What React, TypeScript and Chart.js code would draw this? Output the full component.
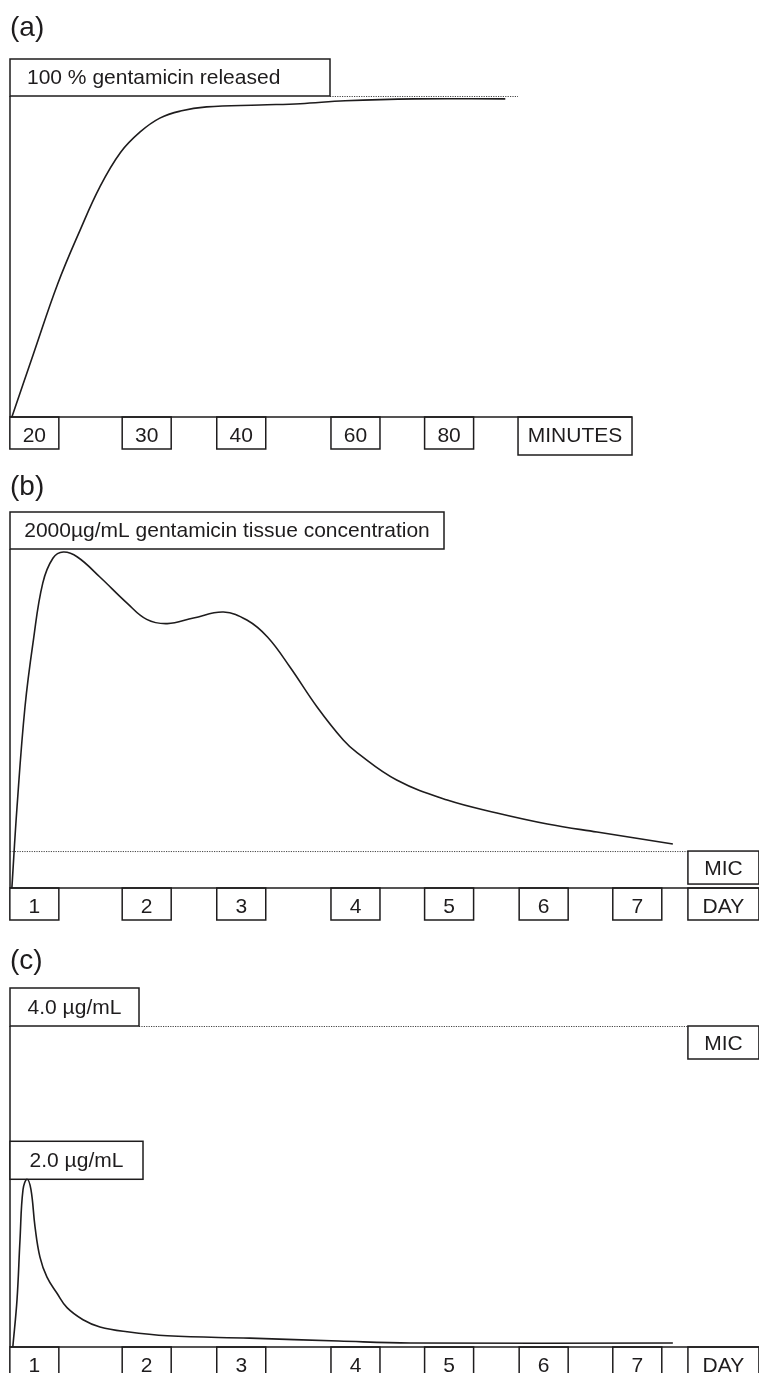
import React, { useEffect, useRef } from 'react';
import { Chart, registerables } from 'chart.js';

Chart.register(...registerables);

// ---------------- data ----------------
// tick labels of the (schematic, non-linear) time axes
const minuteTickLabels = ['20', '30', '40', '60', '80'];
const dayTickLabels = ['1', '2', '3', '4', '5', '6', '7'];
// schematic slot of every tick box along the time axis (axis runs 0..8)
const tickSlots = [0.26, 1.46, 2.47, 3.69, 4.69, 5.7, 6.7];
const minutesUnitSlot = 6.035;
const dayUnitSlot = 7.62;

// (a) gentamicin released (% of total)
const releaseX = [0.02, 0.25, 0.51, 0.75, 0.96, 1.18, 1.39, 1.6, 1.82, 2.1, 2.67, 3.1, 3.58, 4.32, 5.29];
const releasePct = [0, 19.6, 41.5, 58.3, 71.7, 82.4, 88.8, 93.1, 95.3, 96.6, 97.2, 97.6, 98.5, 99.1, 99.1];
const releaseMax = 100;

// (b) gentamicin tissue concentration (µg/mL)
const tissueX = [0.02, 0.075, 0.16, 0.25, 0.35, 0.46, 0.57, 0.72, 0.96, 1.25, 1.46, 1.68, 1.96, 2.28, 2.53, 2.75, 2.99, 3.28, 3.56, 3.71, 4.13, 4.67, 5.2, 5.74, 6.27, 7.08];
const tissueConc = [0, 478, 1068, 1463, 1799, 1947, 1982, 1953, 1835, 1681, 1585, 1560, 1593, 1628, 1581, 1481, 1304, 1068, 873, 797, 637, 519, 443, 378, 330, 260];
const tissueMax = 2000;
const tissueMIC = 218;

// (c) serum concentration (µg/mL)
const serumX = [0.03, 0.075, 0.107, 0.139, 0.182, 0.224, 0.267, 0.32, 0.395, 0.502, 0.609, 0.78, 0.961, 1.25, 1.68, 2.56, 3.51, 4.28, 7.08];
const serumConc = [0, 0.59, 1.34, 1.96, 2.09, 1.96, 1.5, 1.12, 0.87, 0.67, 0.49, 0.34, 0.25, 0.19, 0.14, 0.11, 0.075, 0.05, 0.05];
const serumMIC = 4.0;
const serumPeak = Math.max(...serumConc);

// ---------------- style ----------------
const INK = '#1e1c1d';
const FONT = '"Liberation Sans", Arial, Helvetica, sans-serif';
const W = 759;

function rect(ctx: CanvasRenderingContext2D, x: number, y: number, w: number, h: number) {
  ctx.strokeRect(x, y, w, h);
}

const schematicPlugin = {
  id: 'schematic',
  beforeDatasetsDraw(chart: any, _args: any, opts: any) {
    const { ctx, chartArea, scales } = chart;
    const xs = scales.x;
    const ys = scales.y;
    const L = chartArea.left;
    const T = chartArea.top;
    const B = chartArea.bottom;
    ctx.save();
    ctx.strokeStyle = INK;
    ctx.fillStyle = INK;
    ctx.lineWidth = 1.5;
    ctx.textBaseline = 'alphabetic';

    // panel letter
    ctx.font = `28px ${FONT}`;
    ctx.textAlign = 'left';
    ctx.fillText(opts.letter, L, opts.letterBaseline);

    // dotted reference line
    const unitCx = xs.getPixelForValue(opts.unitSlot);
    const unitLeft = unitCx - opts.unitWidth / 2;
    if (opts.dotted) {
      const yd = ys.getPixelForValue(opts.dotted.value);
      ctx.save();
      ctx.setLineDash([1.2, 1.2]);
      ctx.lineWidth = 1;
      ctx.strokeStyle = '#444';
      ctx.beginPath();
      ctx.moveTo(L + (opts.dotted.fromBox ? opts.labelBoxes[0].w : 0), yd + 0.5);
      ctx.lineTo(unitLeft, yd + 0.5);
      ctx.stroke();
      ctx.restore();
    }

    // axes
    ctx.beginPath();
    ctx.moveTo(L, T);
    ctx.lineTo(L, B);
    ctx.moveTo(L, B);
    ctx.lineTo(unitLeft + opts.unitWidth, B);
    ctx.stroke();

    // label boxes (bottom edge sits on their level)
    for (const lb of opts.labelBoxes) {
      const yb = ys.getPixelForValue(lb.value);
      ctx.fillStyle = '#fff';
      ctx.fillRect(L, yb - lb.h, lb.w, lb.h);
      ctx.fillStyle = INK;
      rect(ctx, L, yb - lb.h, lb.w, lb.h);
      ctx.font = `${opts.labelFont}px ${FONT}`;
      if (lb.center) {
        ctx.textAlign = 'center';
        ctx.fillText(lb.text, L + lb.w / 2, yb - 12);
      } else {
        ctx.textAlign = 'left';
        ctx.fillText(lb.text, L + lb.pad, yb - 12);
      }
    }

    // tick boxes
    ctx.font = `${opts.tickFont}px ${FONT}`;
    ctx.textAlign = 'center';
    opts.ticks.forEach((t: string, i: number) => {
      const cx = xs.getPixelForValue(opts.slots[i]);
      rect(ctx, cx - 24.5, B, 49, 32);
      ctx.fillText(t, cx, B + 24.5);
    });
    // unit box
    rect(ctx, unitLeft, B, opts.unitWidth, opts.unitHeight);
    ctx.fillText(opts.unit, unitCx, B + 24.5);

    // MIC box
    if (opts.mic !== undefined) {
      const ym = ys.getPixelForValue(opts.mic);
      rect(ctx, unitLeft, ym, opts.unitWidth, 33);
      ctx.fillText('MIC', unitCx, ym + 24);
    }
    ctx.restore();
  },
};

function makeConfig(xsArr: number[], ysArr: number[], yMax: number, padTop: number, padBottom: number, schematic: any) {
  return {
    type: 'line',
    data: {
      datasets: [
        {
          data: xsArr.map((x, i) => ({ x, y: ysArr[i] })),
          borderColor: INK,
          borderWidth: 1.6,
          pointRadius: 0,
          fill: false,
          tension: 0.4,
        },
      ],
    },
    options: {
      responsive: false,
      animation: false,
      events: [],
      layout: { padding: { left: 10, right: 0, top: padTop, bottom: padBottom } },
      scales: {
        x: { type: 'linear', min: 0, max: 8, display: false },
        y: { type: 'linear', min: 0, max: yMax, display: false },
      },
      plugins: {
        legend: { display: false },
        tooltip: { enabled: false },
        schematic,
      },
    },
    plugins: [schematicPlugin],
  } as any;
}

function Panel({ top, height, config }: { top: number; height: number; config: any }) {
  const ref = useRef<HTMLCanvasElement>(null);
  useEffect(() => {
    const chart = new Chart(ref.current as HTMLCanvasElement, config);
    return () => chart.destroy();
  }, []);
  return (
    <canvas
      ref={ref}
      width={W}
      height={height}
      style={{ position: 'absolute', left: 0, top, width: W, height, display: 'block' }}
    />
  );
}

export default function App() {
  const cfgA = makeConfig(releaseX, releasePct, releaseMax, 96, 48, {
    letter: '(a)',
    letterBaseline: 36,
    labelFont: 21,
    tickFont: 21,
    labelBoxes: [{ text: '100 % gentamicin released', value: releaseMax, w: 320, h: 37, pad: 17 }],
    dotted: { value: releaseMax, fromBox: true },
    ticks: minuteTickLabels,
    slots: tickSlots,
    unit: 'MINUTES',
    unitSlot: minutesUnitSlot,
    unitWidth: 114,
    unitHeight: 38,
  });
  const cfgB = makeConfig(tissueX, tissueConc, tissueMax, 84, 42, {
    letter: '(b)',
    letterBaseline: 30,
    labelFont: 21,
    tickFont: 21,
    labelBoxes: [{ text: '2000\u00b5g/mL gentamicin tissue concentration', value: tissueMax, w: 434, h: 37, center: true }],
    dotted: { value: tissueMIC, fromBox: false },
    mic: tissueMIC,
    ticks: dayTickLabels,
    slots: tickSlots,
    unit: 'DAY',
    unitSlot: dayUnitSlot,
    unitWidth: 71,
    unitHeight: 32,
  });
  const cfgC = makeConfig(serumX, serumConc, serumMIC, 96, 26, {
    letter: '(c)',
    letterBaseline: 39,
    labelFont: 21,
    tickFont: 21,
    labelBoxes: [
      { text: '4.0 \u00b5g/mL', value: serumMIC, w: 129, h: 38, center: true },
      { text: '2.0 \u00b5g/mL', value: serumPeak, w: 133, h: 38, center: true },
    ],
    dotted: { value: serumMIC, fromBox: true },
    mic: serumMIC,
    ticks: dayTickLabels,
    slots: tickSlots,
    unit: 'DAY',
    unitSlot: dayUnitSlot,
    unitWidth: 71,
    unitHeight: 32,
  });
  return (
    <div style={{ position: 'absolute', left: 0, top: 0, width: W, height: 1373, background: '#fff', overflow: 'hidden' }}>
      <Panel top={0} height={465} config={cfgA} />
      <Panel top={465} height={465} config={cfgB} />
      <Panel top={930} height={443} config={cfgC} />
    </div>
  );
}
